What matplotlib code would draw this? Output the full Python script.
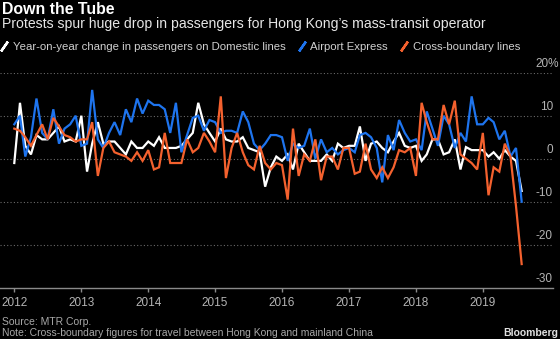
import matplotlib

matplotlib.use("Agg")
import matplotlib.pyplot as plt  # noqa: E402
import matplotlib.dates as mdates  # noqa: E402
import matplotlib.transforms as mtransforms  # noqa: E402
import pandas as pd  # noqa: E402
from matplotlib.lines import Line2D  # noqa: E402

plt.rcParams["font.family"] = ["Liberation Sans", "DejaVu Sans"]

# Monthly year-on-year change in passengers, %, Jan 2012 - Aug 2019
months = pd.date_range("2012-01-01", periods=92, freq="MS")

domestic = [
    -1, 13, 3, 1, 5.5, 4.5, 4.5, 6, 7.5, 4, 4.5, 4,
    10, -3, 3.5, 8.5, 3.5, 4, 4, 2.5, 1, 4, 2.5, 2.5,
    4, 3, 5, 2.5, 2.5, 2.5, 3, 4.5, 6, 13, 8, 6,
    4, 7, 4.5, 4, 4, 5, 2.5, 2, 1.5, -6.5, -2, 0.5,
    -0.5, 1, -2.5, 3.5, 1.5, -0.5, -0.5, -0.5, 1, -0.5, 3.5, 2.5,
    3, 3, 7.5, -0.5, 3.5, 4, 2.5, 1.5, 4, 6, 3, 2.5,
    3, -0.5, 1, 4.5, 4.5, 1, 1.5, 4.5, -2.5, 2.7, 2, 2,
    2, 0.5, 1.5, 0, 2, 0.5, -0.5, -7.5,
]
airport = [
    8, 10, 0.5, 5, 14, 6, 4.5, 11.5, 3.5, 7, 8, 10,
    3, 3.5, 16, 4.5, 2.5, 6, 8.5, 5.5, 11.5, 8.5, 14, 10.5,
    13.5, 12.5, 12.5, 11.5, 6, 13, 1.5, 5.5, 9.5, 10, 6.5, 9,
    8.5, 6, 6.5, 6.5, 6, 11, 8.5, 3.5, 2, 3.5, 5.5, 5.5,
    5, -0.5, 3.5, 2.5, 3, 7, 0, 4.5, 1.5, 2.5, 1, 2,
    2.5, 1.5, 5.5, 6, 5, 2.5, -5.5, 5.5, 2, 9, 6, 4,
    4.5, 2, 11, 7, 3, 10, 8, 2.5, 6, 4, 14.5, 8,
    8, 9.5, 8.5, 4.5, 6.5, 0.5, 2.5, -10,
]
cross_boundary = [
    7, 6.5, 5, 3, 5.5, 8, 4.5, 9.5, 7.5, 5.5, 5, 4,
    4.5, 4.5, 8.5, -4, 2.5, 4, 1.5, 1, 0.5, -0.5, 1.5, -0.5,
    2, -2.5, -2, 6, -1, -1, -1, 4.5, 1.5, 2.5, 6, 4,
    1.5, 14.5, -4.5, 2.5, 6, 1.5, -1.5, -2.5, 3, -1, -2.5, -1,
    -1.5, -9.5, 7, -4, 1, -0.5, 4.5, -5, 0.5, 0.5, -2.5, 2.5,
    2.5, -3.5, -3, 3.5, -2.5, -4.5, -2, -4.5, -2, 2, 1.5, 2.5,
    -4, 13, 8.5, 4.5, 4.5, 12.5, 8, 13.5, 1, 0, -1, -2.5,
    6, -8.5, -2, -3, 3.5, 0.5, -11, -24.5,
]

series_labels = [
    "Year-on-year change in passengers on Domestic lines",
    "Airport Express",
    "Cross-boundary lines",
]
series_colors = ["#ffffff", "#1e74ee", "#f4612e"]
y_ticks = [20, 10, 0, -10, -20, -30]
y_tick_labels = ["20%", "10", "0", "-10", "-20", "-30"]
year_ticks = list(range(2012, 2020))

BG = "#000000"

fig = plt.figure(figsize=(5.6, 3.39), dpi=100, facecolor=BG)
ax = fig.add_axes([0.0, 0.1513, 0.9875, 0.6342], facecolor=BG)

for values, color in zip([domestic, airport, cross_boundary], series_colors):
    ax.plot(months, values, color=color, linewidth=1.6, solid_joinstyle="miter")

ax.set_ylim(-30, 20)
ax.set_xlim(pd.Timestamp("2011-10-15"), pd.Timestamp("2020-01-19"))

# dotted grid lines, labels sit above them on the right
for v in y_ticks[:-1]:
    ax.axhline(v, color="#6a6a6a", linewidth=0.8, linestyle=(0, (1, 2)), zorder=0)
ax.set_yticks([])

label_tf = mtransforms.offset_copy(ax.get_yaxis_transform(), fig=fig, x=0, y=6, units="dots")
for v, lab in zip(y_ticks, y_tick_labels):
    # the top label carries the % sign, so it is pulled to the figure edge
    x_pos = 1.0 if v != 20 else 0.9975 * 560 / 553
    ax.text(x_pos, v, lab, transform=label_tf, ha="right", va="baseline",
            fontsize=8.5, color="#b4b4b4", clip_on=False)

for side in ["top", "right", "left"]:
    ax.spines[side].set_visible(False)
ax.spines["bottom"].set_color("#8a8a8a")
ax.spines["bottom"].set_linewidth(1.0)

ax.set_xticks([pd.Timestamp(f"{y}-01-01") for y in year_ticks])
ax.xaxis.set_major_formatter(mdates.DateFormatter("%Y"))
ax.tick_params(axis="x", colors="#8a8a8a", length=3, width=1, pad=3.5,
               labelcolor="#b4b4b4", labelsize=8.5)

# title block
fig.text(0.004, 1 - 13.5 / 339, "Down the Tube", fontsize=11.4, fontweight="bold",
         color="#ffffff", va="baseline")
fig.text(0.004, 1 - 28 / 339,
         "Protests spur huge drop in passengers for Hong Kong\u2019s mass-transit operator",
         fontsize=10.1, color="#e6e6e6", va="baseline")

handles = [Line2D([], [], color=c, linestyle="none", marker=(2, 2, -35),
                  markersize=8.5, markeredgewidth=1.7) for c in series_colors]
fig.legend(handles, series_labels, loc="upper left", ncol=3,
           bbox_to_anchor=(0.0, 1 - 42 / 339), bbox_transform=fig.transFigure,
           frameon=False, fontsize=8.2, labelcolor="#d0d0d0",
           handlelength=0.7, handletextpad=0.4, columnspacing=1.1,
           borderpad=0, borderaxespad=0)

# footer
fig.text(0.004, 1 - 325 / 339, "Source: MTR Corp.", fontsize=7.45,
         color="#a8a8a8", va="baseline")
fig.text(0.004, 1 - 336 / 339,
         "Note: Cross-boundary figures for travel between Hong Kong and mainland China",
         fontsize=7.45, color="#a8a8a8", va="baseline")
fig.text(0.997, 1 - 336 / 339, "Bloomberg", fontsize=7.5, fontweight="bold",
         color="#e0e0e0", ha="right", va="baseline")

fig.savefig("out.png", dpi=100, facecolor=BG)
